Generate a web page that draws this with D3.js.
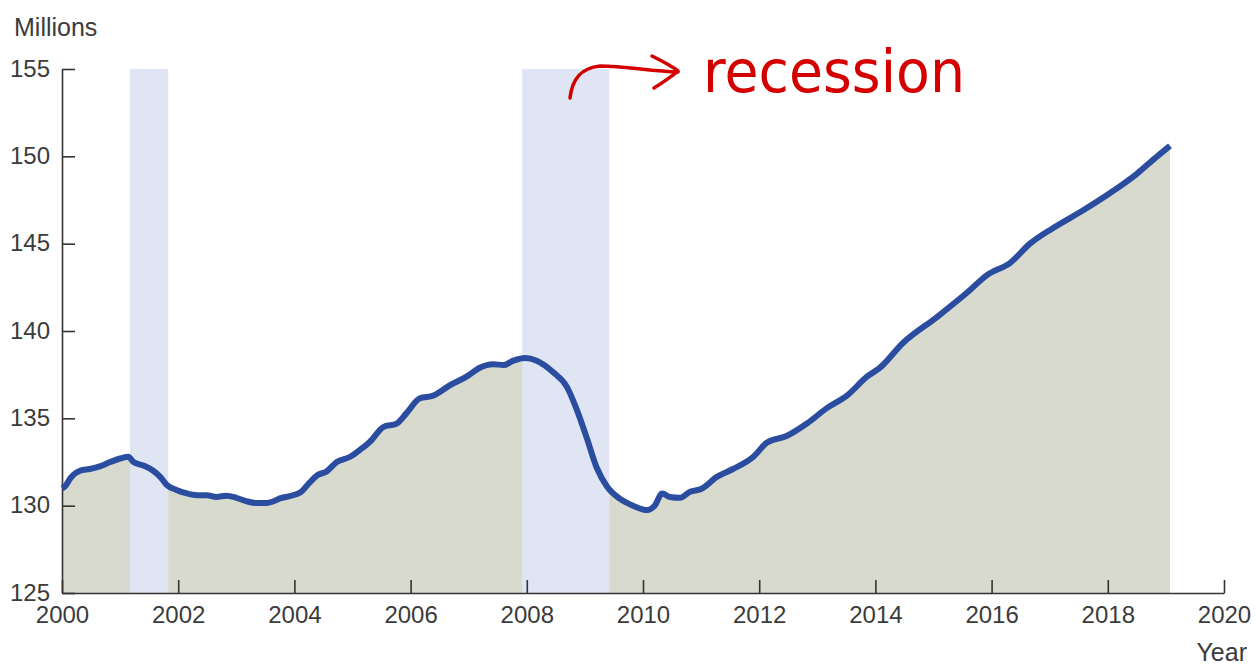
<!DOCTYPE html>
<html>
<head>
<meta charset="utf-8">
<script src="https://cdn.jsdelivr.net/npm/d3@7"></script>
<style>
  body { margin: 0; background: #fff; }
  svg text { font-family: "Liberation Sans Narrow", "Arial Narrow", "Liberation Sans", Arial, sans-serif; fill: #3b3b3b; }
</style>
</head>
<body>
<div id="chart"></div>
<script>
// payroll employment, millions
var years = [2000.0, 2000.05, 2000.15, 2000.31, 2000.48, 2000.65, 2000.83, 2001.0, 2001.14, 2001.23,
             2001.4, 2001.57, 2001.69, 2001.8, 2001.97, 2002.15, 2002.32, 2002.49, 2002.66, 2002.83,
             2003.0, 2003.18, 2003.35, 2003.52, 2003.64, 2003.75, 2003.92, 2004.1, 2004.27, 2004.4,
             2004.55, 2004.73, 2004.96, 2005.13, 2005.3, 2005.53, 2005.76, 2005.93, 2006.16, 2006.39,
             2006.68, 2006.97, 2007.19, 2007.42, 2007.6, 2007.77, 2007.97, 2008.17, 2008.45, 2008.69,
             2008.86, 2009.03, 2009.2, 2009.38, 2009.6, 2009.83, 2010.07, 2010.2, 2010.33, 2010.46,
             2010.64, 2010.81, 2011.0, 2011.27, 2011.55, 2011.9, 2012.13, 2012.48, 2012.82, 2013.17,
             2013.51, 2013.86, 2014.08, 2014.47, 2015.06, 2015.58, 2015.92, 2016.32, 2016.66, 2017.06,
             2017.57, 2018.04, 2018.5, 2018.85, 2019.07];
var employment = [131.0, 131.1, 131.6, 132.0, 132.1, 132.25, 132.5, 132.7, 132.8, 132.5,
                  132.3, 132.0, 131.65, 131.2, 130.9, 130.7, 130.6, 130.6, 130.5, 130.57,
                  130.45, 130.25, 130.15, 130.15, 130.25, 130.42, 130.55, 130.75, 131.35, 131.75,
                  131.95, 132.5, 132.8, 133.2, 133.66, 134.5, 134.7, 135.3, 136.15, 136.3,
                  136.9, 137.4, 137.9, 138.1, 138.05, 138.3, 138.45, 138.3, 137.65, 136.8,
                  135.5, 133.9, 132.2, 131.1, 130.4, 130.0, 129.75, 130.0, 130.7, 130.5,
                  130.45, 130.8, 130.95, 131.65, 132.1, 132.8, 133.6, 134.0, 134.7, 135.6,
                  136.3, 137.4, 137.9, 139.3, 140.8, 142.2, 143.2, 143.9, 145.0, 145.9,
                  146.9, 147.9, 149.0, 150.0, 150.6];

var recessionStart = [2001.17, 2007.92];
var recessionEnd = [2001.83, 2009.42];

var yTicks = [125, 130, 135, 140, 145, 150, 155];
var xTicks = [2000, 2002, 2004, 2006, 2008, 2010, 2012, 2014, 2016, 2018, 2020];

var width = 1256, height = 665;
var margin = { top: 69, right: 32, bottom: 72, left: 62 };

var svg = d3.select("#chart").append("svg")
    .attr("width", width)
    .attr("height", height);

var x = d3.scaleLinear().domain([2000, 2020]).range([margin.left, width - margin.right]);
var y = d3.scaleLinear().domain([125, 155]).range([height - margin.bottom, margin.top]);

var series = years.map(function (t, i) { return { t: t, v: employment[i] }; });

// shaded area under the line
var area = d3.area()
    .x(function (d) { return x(d.t); })
    .y0(y(125))
    .y1(function (d) { return y(d.v); });

svg.append("path")
    .datum(series)
    .attr("d", area)
    .attr("fill", "#d9dace");

// recession bands
svg.append("g").selectAll("rect")
    .data(recessionStart)
    .enter().append("rect")
    .attr("x", function (d) { return x(d); })
    .attr("width", function (d, i) { return x(recessionEnd[i]) - x(d); })
    .attr("y", y(155))
    .attr("height", y(125) - y(155))
    .attr("fill", "#dfe5f3");

// axes
var xAxis = d3.axisBottom(x).tickValues(xTicks).tickFormat(d3.format("d"))
    .tickSizeInner(-13).tickSizeOuter(0).tickPadding(13);
var yAxis = d3.axisLeft(y).tickValues(yTicks)
    .tickSizeInner(-13).tickSizeOuter(0).tickPadding(12);

var gx = svg.append("g")
    .attr("transform", "translate(0," + y(125) + ")")
    .call(xAxis);
var gy = svg.append("g")
    .attr("transform", "translate(" + x(2000) + ",0)")
    .call(yAxis);

[gx, gy].forEach(function (g) {
    g.select(".domain").attr("stroke", "#333").attr("stroke-width", 1.6);
    g.selectAll(".tick line").attr("stroke", "#333").attr("stroke-width", 1.6);
    g.selectAll(".tick text").attr("font-size", 24).attr("fill", "#3b3b3b")
        .style("font-family", null);
});
gy.selectAll(".tick text").attr("dy", "0.3em");

// line on top
var line = d3.line()
    .x(function (d) { return x(d.t); })
    .y(function (d) { return y(d.v); })
    .curve(d3.curveMonotoneX);

svg.append("path")
    .datum(series)
    .attr("d", line)
    .attr("fill", "none")
    .attr("stroke", "#2a4d9f")
    .attr("stroke-width", 6)
    .attr("stroke-linejoin", "round");

// axis titles
svg.append("text")
    .attr("x", 14).attr("y", 36)
    .attr("font-size", 25)
    .text("Millions");

svg.append("text")
    .attr("x", 1247).attr("y", 661)
    .attr("text-anchor", "end")
    .attr("font-size", 25)
    .text("Year");

// red hand-drawn note
var note = svg.append("g").attr("fill", "none").attr("stroke", "#d40000")
    .attr("stroke-width", 3.5).attr("stroke-linecap", "round").attr("stroke-linejoin", "round");

note.append("path")
    .attr("d", "M570,98 C572,80 580,68 600,66 C625,66 650,71 678,72");
note.append("path")
    .attr("d", "M652,56 C664,62 672,66 678,71 C670,78 662,83 654,88");

svg.append("text")
    .attr("x", 703).attr("y", 92)
    .attr("font-size", 58)
    .attr("textLength", 262)
    .attr("lengthAdjust", "spacingAndGlyphs")
    .style("font-family", "'DejaVu Sans', sans-serif")
    .style("fill", "#d40000")
    .text("recession");
</script>
</body>
</html>
